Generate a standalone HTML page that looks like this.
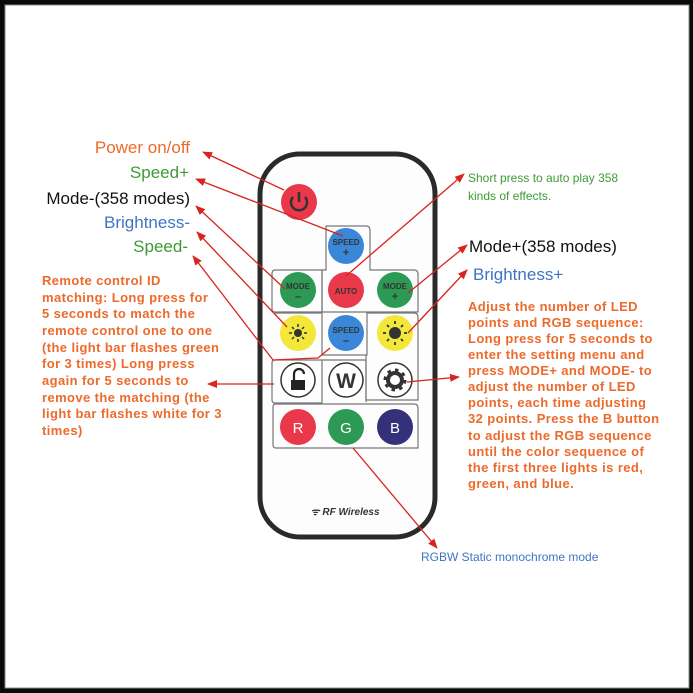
<!DOCTYPE html>
<html><head><meta charset="utf-8"><style>
html,body{margin:0;padding:0;background:#fff}
svg{display:block}
text{font-family:"Liberation Sans",Arial,sans-serif}
.o{fill:#ec6a2c;font-size:13px;font-weight:bold;letter-spacing:0.4px}
</style></head><body>
<svg width="693" height="693" viewBox="0 0 693 693" xmlns="http://www.w3.org/2000/svg">
<defs>
<marker id="a" markerWidth="10" markerHeight="8" refX="9" refY="4" orient="auto" markerUnits="userSpaceOnUse">
<path d="M0,0 L10,4 L0,8 z" fill="#d8231e"/></marker>
</defs>
<rect x="0" y="0" width="693" height="693" fill="#0a0a0a"/>
<rect x="5" y="5" width="684" height="683" fill="#fff" stroke="#888" stroke-width="1"/>

<!-- remote -->
<rect x="260" y="154" width="175" height="383" rx="40" fill="#fdfdfd" stroke="#2a2a2a" stroke-width="5"/>
<!-- group frames -->
<g fill="none" stroke="#777" stroke-width="1.2">
<path d="M326,226 H366 Q370,226 370,230 V270 H414 Q418,270 418,274 V312 H322 V270 H326 Z"/>
<path d="M275,270 H322 V312 H275 Q272,312 272,309 V274 Q272,270 275,270 Z"/>
<path d="M275,313 H322 V355 H367 V313 H414 Q418,313 418,317 V400 H366 V355"/>
<path d="M275,360 H322 V403 H275 Q272,403 272,400 V363 Q272,360 275,360 Z"/>
<path d="M322,360 H366 V402"/>
<path d="M276,404 H414 Q418,404 418,408 V448 H276 Q273,448 273,445 V407 Q273,404 276,404 Z"/>
</g>
<!-- buttons -->
<circle cx="299" cy="202" r="18" fill="#e8384a"/>
<path d="M293,197 A8,8 0 1,0 305,197" fill="none" stroke="#333" stroke-width="2.5"/>
<line x1="299" y1="192" x2="299" y2="202" stroke="#333" stroke-width="2.5"/>
<circle cx="346" cy="246" r="18" fill="#3a86d8"/>
<text x="346" y="245" font-size="8" text-anchor="middle" fill="#333" font-weight="bold">SPEED</text>
<text x="346" y="256" font-size="11" text-anchor="middle" fill="#333" font-weight="bold">+</text>
<circle cx="298" cy="290" r="18" fill="#2c9a55"/>
<text x="298" y="289" font-size="8" text-anchor="middle" fill="#333" font-weight="bold">MODE</text>
<text x="298" y="300" font-size="11" text-anchor="middle" fill="#333" font-weight="bold">–</text>
<circle cx="346" cy="290" r="18" fill="#e8384a"/>
<text x="346" y="294" font-size="8" text-anchor="middle" fill="#333" font-weight="bold">AUTO</text>
<circle cx="395" cy="290" r="18" fill="#2c9a55"/>
<text x="395" y="289" font-size="8" text-anchor="middle" fill="#333" font-weight="bold">MODE</text>
<text x="395" y="300" font-size="11" text-anchor="middle" fill="#333" font-weight="bold">+</text>
<circle cx="298" cy="333" r="18" fill="#f2e73a"/>
<circle cx="298" cy="333" r="4" fill="#333"/>
<g stroke="#333" stroke-width="1.5"><line x1="289" y1="333" x2="292" y2="333"/><line x1="304" y1="333" x2="307" y2="333"/><line x1="298" y1="324" x2="298" y2="327"/><line x1="298" y1="339" x2="298" y2="342"/><line x1="292" y1="327" x2="294" y2="329"/><line x1="302" y1="337" x2="304" y2="339"/><line x1="304" y1="327" x2="302" y2="329"/><line x1="292" y1="339" x2="294" y2="337"/></g>
<circle cx="346" cy="333" r="18" fill="#3a86d8"/>
<text x="346" y="333" font-size="8" text-anchor="middle" fill="#333" font-weight="bold">SPEED</text>
<text x="346" y="344" font-size="11" text-anchor="middle" fill="#333" font-weight="bold">–</text>
<circle cx="395" cy="333" r="18" fill="#f2e73a"/>
<circle cx="395" cy="333" r="6" fill="#333"/>
<g stroke="#333" stroke-width="1.8"><line x1="383" y1="333" x2="386" y2="333"/><line x1="404" y1="333" x2="407" y2="333"/><line x1="395" y1="321" x2="395" y2="324"/><line x1="395" y1="342" x2="395" y2="345"/><line x1="387" y1="325" x2="389" y2="327"/><line x1="401" y1="339" x2="403" y2="341"/><line x1="403" y1="325" x2="401" y2="327"/><line x1="387" y1="341" x2="389" y2="339"/></g>
<circle cx="298" cy="380" r="17" fill="#fff" stroke="#333" stroke-width="1.5"/>
<rect x="291" y="380" width="14" height="10" fill="#222"/>
<path d="M294,380 V374 A5,5 0 0,1 304,374" fill="none" stroke="#222" stroke-width="2.2"/>
<circle cx="346" cy="380" r="17" fill="#fff" stroke="#333" stroke-width="1.5"/>
<text x="346" y="388" font-size="21" text-anchor="middle" fill="#333" font-weight="bold">W</text>
<circle cx="395" cy="380" r="17" fill="#fff" stroke="#333" stroke-width="1.5"/>
<circle cx="395" cy="380" r="7" fill="none" stroke="#333" stroke-width="4"/>
<circle cx="395" cy="380" r="10" fill="none" stroke="#333" stroke-width="3" stroke-dasharray="3.5 4.3"/>
<circle cx="298" cy="427" r="18" fill="#e8384a"/>
<text x="298" y="433" font-size="15" text-anchor="middle" fill="#fff">R</text>
<circle cx="346" cy="427" r="18" fill="#2c9a55"/>
<text x="346" y="433" font-size="15" text-anchor="middle" fill="#fff">G</text>
<circle cx="395" cy="427" r="18" fill="#34307a"/>
<text x="395" y="433" font-size="15" text-anchor="middle" fill="#fff">B</text>
<text x="345" y="515" font-size="10" text-anchor="middle" fill="#333" font-weight="bold" font-style="italic">ᯤ RF Wireless</text>

<!-- arrows -->
<g stroke="#d8231e" stroke-width="1.3" fill="none" marker-end="url(#a)">
<line x1="284" y1="190" x2="203" y2="152"/>
<line x1="343" y1="236" x2="196" y2="179"/>
<line x1="285" y1="289" x2="196" y2="206"/>
<line x1="287" y1="327" x2="197" y2="232"/>
<polyline points="330,348 318,358 273,360 193,256"/>
<line x1="274" y1="384" x2="208" y2="384"/>
<line x1="346" y1="276" x2="464" y2="174"/>
<line x1="408" y1="293" x2="467" y2="245"/>
<line x1="408" y1="333" x2="467" y2="270"/>
<line x1="407" y1="382" x2="459" y2="377"/>
<line x1="353" y1="448" x2="437" y2="548"/>
</g>

<!-- left labels -->
<text x="190" y="153" font-size="17" text-anchor="end" fill="#ec6a2c">Power on/off</text>
<text x="189" y="178" font-size="17" text-anchor="end" fill="#3e9a35">Speed+</text>
<text x="190" y="204" font-size="17" text-anchor="end" fill="#111">Mode-(358 modes)</text>
<text x="190" y="228" font-size="17" text-anchor="end" fill="#3f74c4">Brightness-</text>
<text x="188" y="252" font-size="17" text-anchor="end" fill="#3e9a35">Speed-</text>
<g class="o">
<text x="42" y="285">Remote control ID</text>
<text x="42" y="302">matching: Long press for</text>
<text x="42" y="318"> 5 seconds to match the</text>
<text x="42" y="335">remote control one to one</text>
<text x="42" y="352">(the light bar flashes green</text>
<text x="42" y="368">for 3 times) Long press</text>
<text x="42" y="385">again for 5 seconds to</text>
<text x="42" y="402">remove the matching (the</text>
<text x="42" y="418">light bar flashes white for 3</text>
<text x="42" y="435">times)</text>
</g>

<!-- right labels -->
<text x="468" y="182" font-size="12" fill="#3e9a35">Short press to auto play 358</text>
<text x="468" y="200" font-size="12" fill="#3e9a35">kinds of effects.</text>
<text x="469" y="252" font-size="17" fill="#111">Mode+(358 modes)</text>
<text x="473" y="280" font-size="17" fill="#3f74c4">Brightness+</text>
<g class="o">
<text x="468" y="311">Adjust the number of LED</text>
<text x="468" y="327">points and RGB sequence:</text>
<text x="468" y="343">Long press for 5 seconds to</text>
<text x="468" y="359">enter the setting menu and</text>
<text x="468" y="375">press MODE+ and MODE- to</text>
<text x="468" y="391">adjust the number of LED</text>
<text x="468" y="407">points, each time adjusting</text>
<text x="468" y="423">32 points. Press the B button</text>
<text x="468" y="440">to adjust the RGB sequence</text>
<text x="468" y="456">until the color sequence of</text>
<text x="468" y="472">the first three lights is red,</text>
<text x="468" y="488">green, and blue.</text>
</g>
<text x="421" y="561" font-size="12" fill="#3f74c4">RGBW Static monochrome mode</text>
</svg>
</body></html>
